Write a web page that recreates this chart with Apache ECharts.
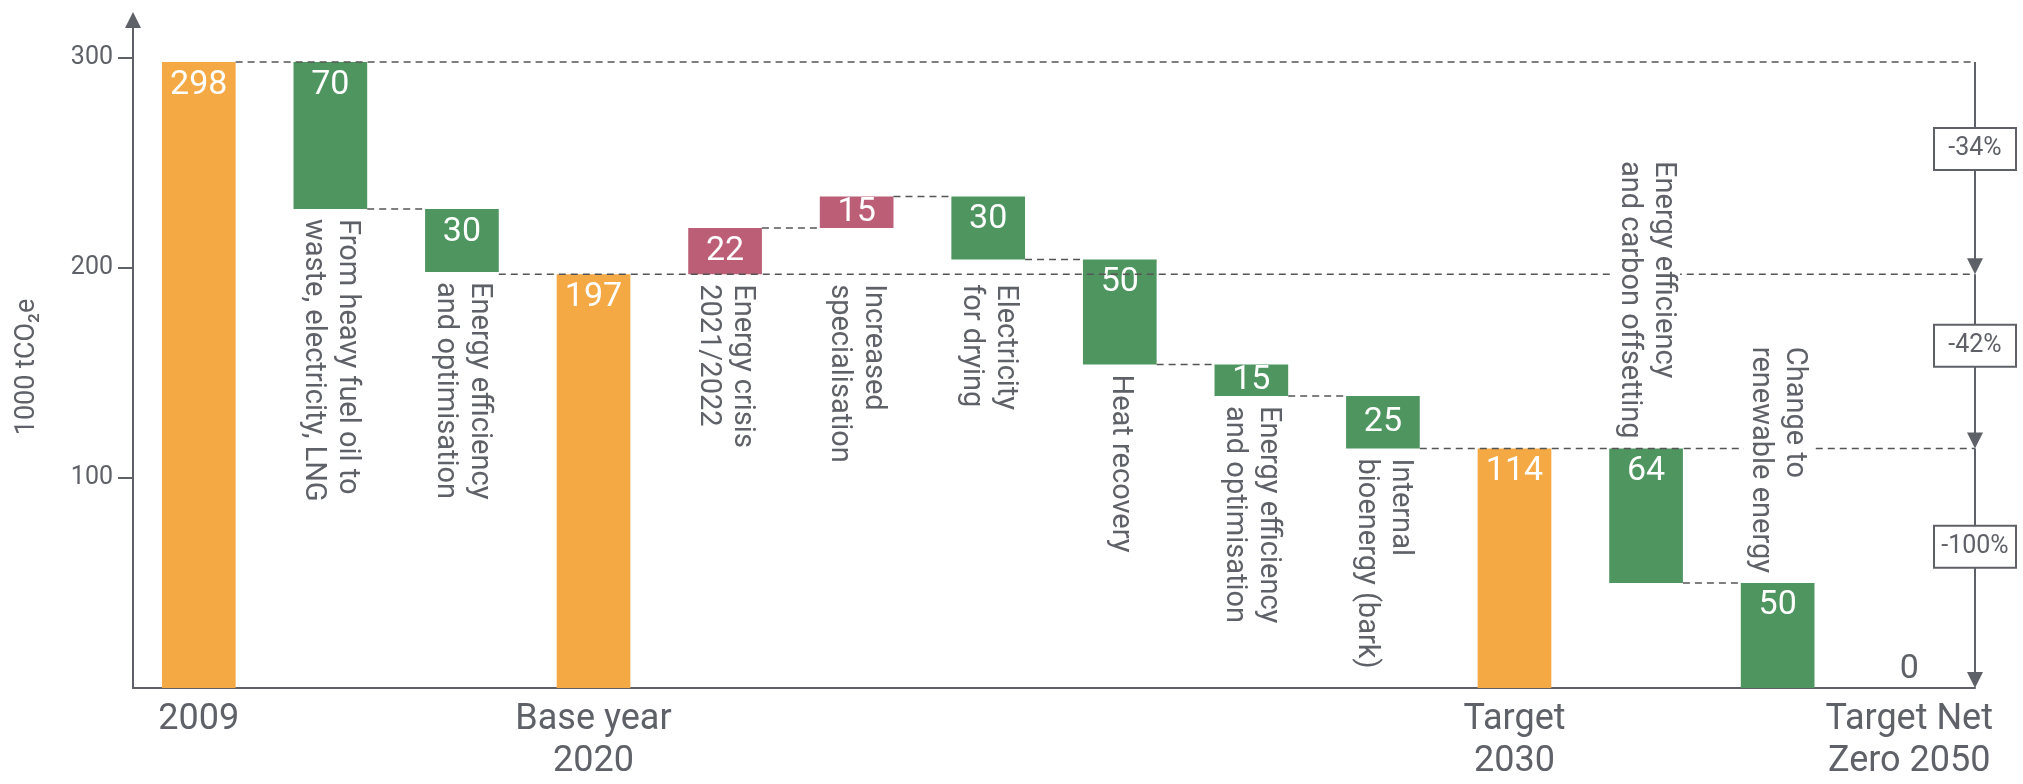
<!DOCTYPE html>
<html>
<head>
<meta charset="utf-8">
<title>CO2 emissions waterfall</title>
<script src="https://cdn.jsdelivr.net/npm/echarts@6/dist/echarts.min.js"></script>
<style>
    html, body { margin: 0; padding: 0; background: #fff; }
    #chart { width: 2023px; height: 784px; }
</style>
</head>
<body>
<div id="chart"></div>
<script>
// data
var categories = [
    '2009',
    'From heavy fuel oil to\nwaste, electricity, LNG',
    'Energy efficiency\nand optimisation',
    'Base year\n2020',
    'Energy crisis\n2021/2022',
    'Increased\nspecialisation',
    'Electricity\nfor drying',
    'Heat recovery',
    'Energy efficiency\nand optimisation',
    'Internal\nbioenergy (bark)',
    'Target\n2030',
    'Energy efficiency\nand carbon offsetting',
    'Change to\nrenewable energy',
    'Target Net\nZero 2050'
];
var values = [298, -70, -30, 197, 22, 15, -30, -50, -15, -25, 114, -64, -50, 0];
var isTotal = [true, false, false, true, false, false, false, false, false, false, true, false, false, true];
var reductionLabels = ['-34%', '-42%', '-100%'];
var yTicks = [100, 200, 300];

var ORANGE = '#f5a945', GREEN = '#4e9560', ROSE = '#bc5e76', GREY = '#5f6168';
var FONT = 'Roboto, sans-serif';
var BAR_RATIO = 0.56;
var labelsAbove = [11, 12]; // these descriptions sit above their bar

// waterfall: invisible base + visible part
var base = [], height = [], level = [], prevTotal = [];
var run = 0, lastTotal = 0;
values.forEach(function (v, i) {
    if (isTotal[i]) {
        base.push(0); height.push(v); run = v; lastTotal = v;
    } else if (v < 0) {
        base.push(run + v); height.push(-v); run += v;
    } else {
        base.push(run); height.push(v); run += v;
    }
    level.push(run);
    prevTotal.push(lastTotal);
});

function colorOf(i) {
    if (isTotal[i]) return ORANGE;
    return values[i] > 0 ? ROSE : GREEN;
}

function nextTotal(i) {
    for (var j = i + 1; j < values.length; j++) {
        if (isTotal[j]) return j;
    }
    return -1;
}

var measureCtx = document.createElement('canvas').getContext('2d');
function textWidth(text, font) {
    measureCtx.font = font;
    return Math.max.apply(null, text.split('\n').map(function (s) {
        return measureCtx.measureText(s).width;
    }));
}

var dash = { stroke: '#555', lineWidth: 1.6, lineDash: [7, 5] };
var noteFont = '29px Roboto';

function renderNotes(params, api) {
    var i = api.value(0);
    var band = api.size([1, 0])[0];
    var half = band * BAR_RATIO / 2;
    var cs = params.coordSys;
    var right = cs.x + cs.width;
    var cx = api.coord([i, 0])[0];
    var children = [];

    // short connector to the next bar
    if (i < values.length - 1 && !isTotal[i] && !isTotal[i + 1]) {
        var y = api.coord([i, level[i]])[1];
        children.push({
            type: 'line',
            shape: { x1: cx + half, y1: y, x2: api.coord([i + 1, 0])[0] - half, y2: y },
            style: dash
        });
    }

    if (isTotal[i] && values[i] > 0) {
        // long guide at the total level
        var from = i === 0 ? 0 : i - 1;
        var yG = api.coord([i, values[i]])[1];
        children.push({
            type: 'line',
            shape: { x1: api.coord([from, 0])[0] + half, y1: yG, x2: right, y2: yG },
            style: dash
        });

        // reduction arrow down to the next total
        var j = nextTotal(i);
        if (j > 0) {
            var k = isTotal.slice(0, i).filter(Boolean).length;
            var y2 = api.coord([j, values[j]])[1];
            children.push({
                type: 'line',
                shape: { x1: right, y1: yG, x2: right, y2: y2 - 12 },
                style: { stroke: GREY, lineWidth: 2 }
            });
            children.push({
                type: 'polygon',
                shape: { points: [[right - 8, y2 - 16], [right + 8, y2 - 16], [right, y2]] },
                style: { fill: GREY }
            });
            var by = yG + (y2 - yG) * 0.41;
            children.push({
                type: 'rect',
                shape: { x: right - 41, y: by - 21, width: 82, height: 42 },
                style: { fill: '#fff', stroke: GREY, lineWidth: 2 }
            });
            children.push({
                type: 'text',
                x: right, y: by,
                style: {
                    text: reductionLabels[k], fill: GREY, font: '25px Roboto',
                    align: 'center', verticalAlign: 'middle'
                }
            });
        }
    }

    // rotated description
    if (!isTotal[i]) {
        var ty;
        if (labelsAbove.indexOf(i) >= 0) {
            var topY = api.coord([i, base[i] + height[i]])[1];
            ty = topY - 10 - textWidth(categories[i], noteFont);
        } else {
            ty = Math.max(api.coord([i, base[i]])[1], api.coord([i, prevTotal[i]])[1]) + 10;
        }
        children.push({
            type: 'text',
            x: cx, y: ty,
            rotation: -Math.PI / 2,
            style: {
                text: categories[i], fill: GREY, font: noteFont, lineHeight: 34,
                align: 'left', verticalAlign: 'middle', backgroundColor: '#fff'
            }
        });
    }

    return { type: 'group', children: children };
}

var chart = echarts.init(document.getElementById('chart'));
var option = {
    animation: false,
    grid: { left: 133, right: 48, top: 20, bottom: 96, outerBoundsMode: 'none' },
    graphic: [{
        type: 'text',
        x: 27, y: 367,
        rotation: Math.PI / 2,
        style: {
            text: '1000 tCO₂e', fill: GREY, font: '27px Roboto',
            align: 'center', verticalAlign: 'middle'
        }
    }],
    xAxis: {
        type: 'category',
        data: categories,
        axisLine: { lineStyle: { color: GREY, width: 2 } },
        axisTick: { show: false },
        axisLabel: {
            interval: 0,
            margin: 11,
            color: GREY,
            fontSize: 36,
            lineHeight: 42,
            fontFamily: FONT,
            formatter: function (v, i) { return isTotal[i] ? v : ''; }
        }
    },
    yAxis: {
        type: 'value',
        min: 0,
        max: 318,
        splitLine: { show: false },
        axisLine: {
            show: true,
            symbol: ['none', 'triangle'],
            symbolSize: [16, 16],
            lineStyle: { color: GREY, width: 2 }
        },
        axisTick: { show: true, customValues: yTicks, length: 15, lineStyle: { color: GREY, width: 2 } },
        axisLabel: { customValues: yTicks, margin: 20, color: GREY, fontSize: 25, fontFamily: FONT }
    },
    series: [
        {
            type: 'bar',
            stack: 'waterfall',
            silent: true,
            barWidth: '56%',
            itemStyle: { color: 'transparent' },
            data: base
        },
        {
            type: 'bar',
            stack: 'waterfall',
            barWidth: '56%',
            label: {
                show: true,
                position: 'insideTop',
                distance: 6,
                color: '#fff',
                fontSize: 34,
                fontFamily: FONT,
                formatter: function (p) { return Math.abs(values[p.dataIndex]); }
            },
            data: height.map(function (h, i) {
                var item = { value: h, itemStyle: { color: colorOf(i) } };
                if (h === 0) {
                    item.label = { position: 'top', distance: 2, color: GREY };
                } else if (h <= 25) {
                    item.label = { position: 'inside' };
                }
                return item;
            })
        },
        {
            type: 'custom',
            z: 5,
            silent: true,
            renderItem: renderNotes,
            data: categories.map(function (c, i) { return [i, level[i]]; })
        }
    ]
};
chart.setOption(option);
</script>
</body>
</html>
